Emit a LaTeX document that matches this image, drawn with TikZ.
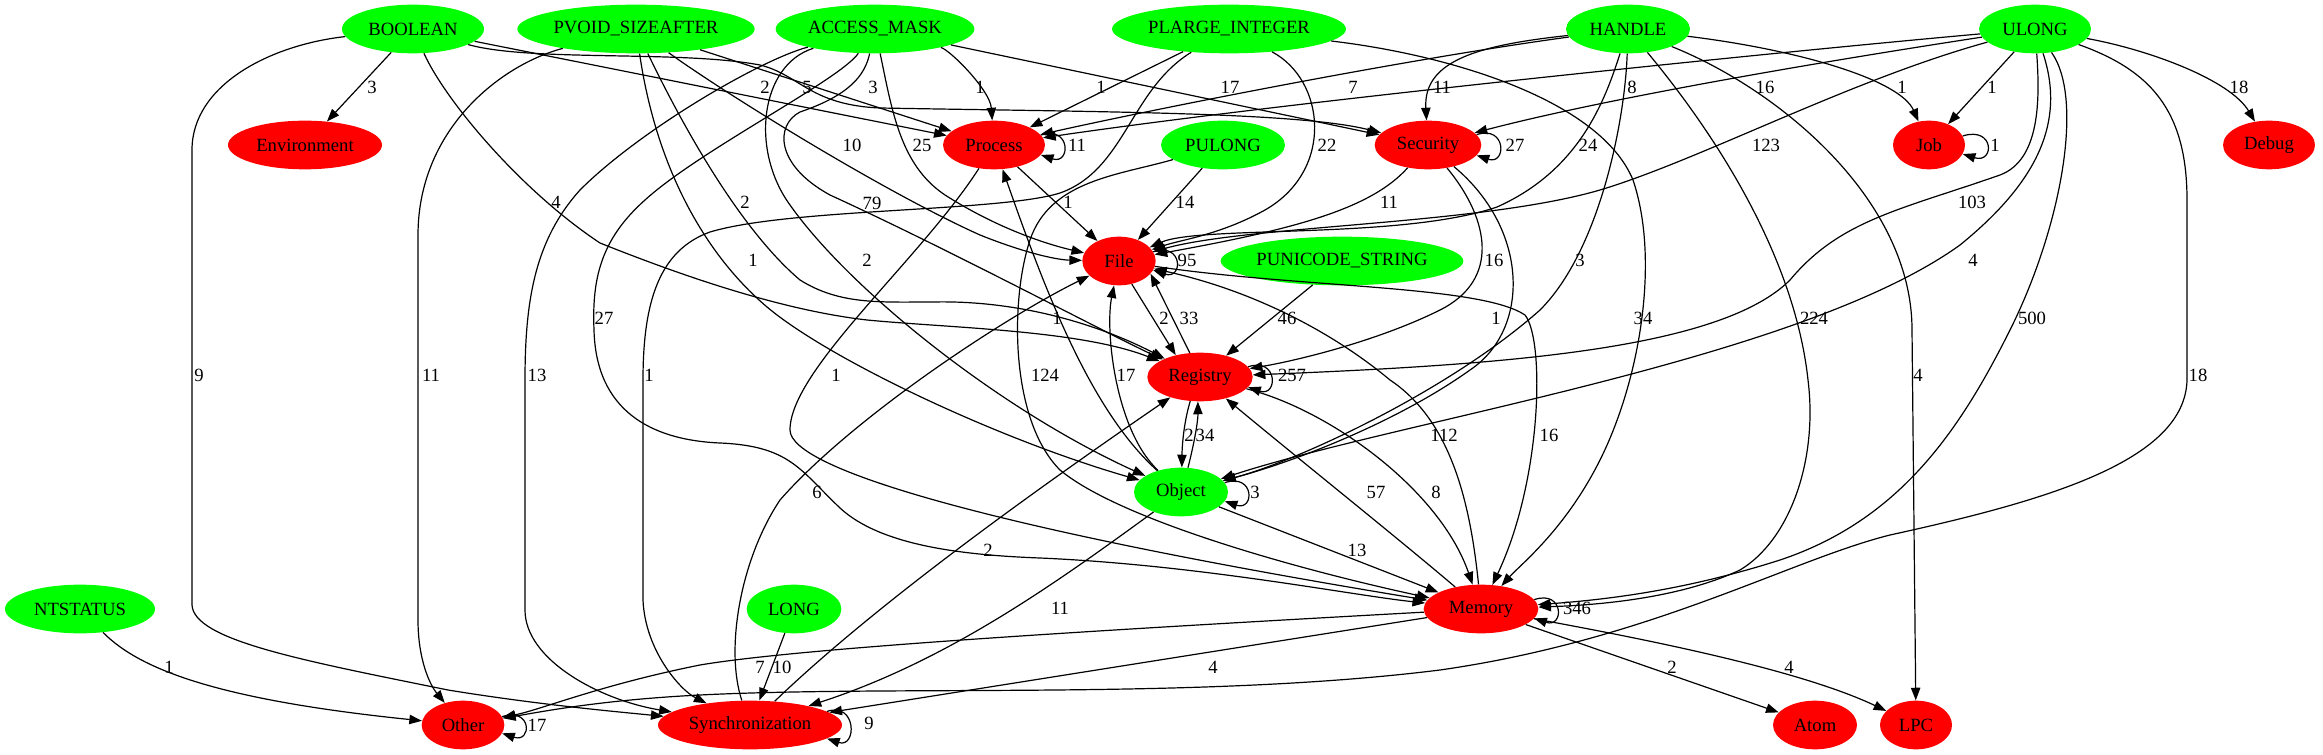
\documentclass[tikz,border=0pt]{standalone}
\usepackage{fontspec}
\setmainfont{Liberation Serif}
\usetikzlibrary{shapes.geometric,arrows.meta}
\definecolor{gvgreen}{RGB}{0,255,0}
\definecolor{gvred}{RGB}{255,0,0}
\begin{document}
\begin{tikzpicture}[x=0.75pt,y=-0.75pt,
  gn/.style={ellipse, fill=gvgreen, inner sep=0pt, minimum height=36.5pt, font=\fontsize{14}{16}\selectfont},
  rn/.style={ellipse, fill=gvred, inner sep=0pt, minimum height=36.5pt, font=\fontsize{14}{16}\selectfont},
  edg/.style={draw, line width=0.9pt, -{Triangle[length=9.5pt,width=7pt]}},
  lab/.style={inner sep=0pt, font=\fontsize{14}{16}\selectfont}]
\useasboundingbox[fill=white] (0,0) rectangle (2323,755);
% top row
\node[gn, minimum width=106.5pt] (BOOL) at (413,29) {BOOLEAN};
\node[gn, minimum width=178pt] (PVOID) at (636,29) {PVOID\_SIZEAFTER};
\node[gn, minimum width=149pt] (AM) at (875,29) {ACCESS\_MASK};
\node[gn, minimum width=175.5pt] (PLI) at (1229,29) {PLARGE\_INTEGER};
\node[gn, minimum width=93pt] (HANDLE) at (1628,29) {HANDLE};
\node[gn, minimum width=84pt] (ULONG) at (2035,29) {ULONG};
% second row
\node[rn, minimum width=115.5pt] (Env) at (305,145) {Environment};
\node[rn, minimum width=76.5pt] (Proc) at (994,145) {Process};
\node[gn, minimum width=93pt] (PULONG) at (1223,145) {PULONG};
\node[rn, minimum width=80pt] (Sec) at (1428,145) {Security};
\node[rn, minimum width=54pt] (Job) at (1929,145) {Job};
\node[rn, minimum width=69pt] (Debug) at (2269,145) {Debug};
% third row
\node[rn, minimum width=55pt] (File) at (1119,261) {File};
\node[gn, minimum width=182pt] (PUNI) at (1342,261) {PUNICODE\_STRING};
% fourth
\node[rn, minimum width=79pt] (Reg) at (1200,377) {Registry};
% fifth
\node[gn, minimum width=70.5pt] (Obj) at (1181,492) {Object};
% sixth
\node[gn, minimum width=112.5pt] (NTS) at (80,609) {NTSTATUS};
\node[gn, minimum width=71pt] (LONG) at (794,609) {LONG};
\node[rn, minimum width=86pt] (Mem) at (1481,609) {Memory};
% bottom
\node[rn, minimum width=62pt] (Other) at (463,725) {Other};
\node[rn, minimum width=138pt] (Sync) at (750,725) {Synchronization};
\node[rn, minimum width=63pt] (Atom) at (1815,725) {Atom};
\node[rn, minimum width=54pt] (LPC) at (1916,725) {LPC};

% BOOLEAN
\draw[edg] (BOOL) -- (Env) node[lab] (l1) at (372,87) {3};
\draw[edg] (BOOL) .. controls (270,45) and (192,85) .. (192,150) -- (192,605) .. controls (194,640) and (300,660) .. (448,690) .. controls (540,705) and (620,712) .. (Sync) node[lab] (l2) at (199,375) {9};
\draw[edg] (BOOL) .. controls (445,100) and (520,190) .. (600,243) .. controls (680,275) and (780,310) .. (867,320) .. controls (950,328) and (1080,330) .. (Reg) node[lab] (l3) at (556,202) {4};
\draw[edg] (BOOL) -- (Proc) node[lab] (l4) at (765,87) {2};
\draw[edg] (BOOL) .. controls (530,62) and (680,50) .. (760,65) .. controls (800,75) and (810,105) .. (880,108) .. controls (1100,112) and (1300,112) .. (Sec) node[lab] (l5) at (807,87) {5};
% PVOID_SIZEAFTER
\draw[edg] (PVOID) .. controls (500,65) and (418,130) .. (418,235) -- (418,620) .. controls (418,660) and (430,685) .. (Other) node[lab] (l6) at (431,375) {11};
\draw[edg] (PVOID) -- (Proc) node[lab] (l7) at (873,87) {3};
\draw[edg] (PVOID) .. controls (675,110) and (735,225) .. (800,280) .. controls (840,305) and (880,302) .. (933,302) .. controls (1020,300) and (1100,325) .. (Reg) node[lab] (l8) at (745,202) {2};
\draw[edg] (PVOID) .. controls (655,160) and (700,250) .. (767,307) .. controls (830,360) and (1000,440) .. (Obj) node[lab] (l9) at (753,260) {1};
\draw[edg] (PVOID) .. controls (720,90) and (880,190) .. (980,235) .. controls (1030,255) and (1060,260) .. (File) node[lab] (l10) at (852,145) {10};
% ACCESS_MASK
\draw[edg] (AM) .. controls (950,50) and (990,90) .. (Proc) node[lab] (l11) at (980,87) {1};
\draw[edg] (AM) -- (Sec) node[lab] (l12) at (1230,87) {17};
\draw[edg] (AM) .. controls (892,110) and (900,165) .. (945,195) .. controls (1000,230) and (1050,245) .. (File) node[lab] (l13) at (922,145) {25};
\draw[edg] (AM) .. controls (760,65) and (750,150) .. (790,205) .. controls (850,290) and (1000,410) .. (Obj) node[lab] (l14) at (867,260) {2};
\draw[edg] (AM) .. controls (840,80) and (700,150) .. (645,200) .. controls (600,240) and (592,280) .. (594,330) .. controls (596,410) and (650,440) .. (720,443) .. controls (790,446) and (800,470) .. (840,508) .. controls (880,545) and (960,555) .. (1040,558) .. controls (1200,565) and (1350,595) .. (Mem) node[lab] (l15) at (604,318) {27};
\draw[edg] (AM) .. controls (760,60) and (640,130) .. (580,190) .. controls (535,240) and (525,300) .. (525,380) -- (525,610) .. controls (525,660) and (600,700) .. (Sync) node[lab] (l16) at (537,375) {13};
\draw[edg] (AM) .. controls (865,75) and (850,95) .. (800,112) .. controls (775,125) and (775,165) .. (830,195) .. controls (950,250) and (1100,330) .. (Reg) node[lab] (l17) at (872,203) {79};
% PLARGE_INTEGER
\draw[edg] (PLI) -- (Proc) node[lab] (l18) at (1101,87) {1};
\draw[edg] (PLI) .. controls (1325,80) and (1335,170) .. (1265,210) .. controls (1220,235) and (1180,240) .. (File) node[lab] (l19) at (1327,145) {22};
\draw[edg] (PLI) .. controls (1130,90) and (1125,170) .. (1060,193) .. controls (1000,212) and (790,208) .. (710,232) .. controls (660,250) and (643,300) .. (643,380) -- (643,600) .. controls (645,650) and (680,690) .. (Sync) node[lab] (l20) at (649,375) {1};
\draw[edg] (PLI) .. controls (1450,55) and (1600,100) .. (1633,180) .. controls (1660,260) and (1640,380) .. (1600,460) .. controls (1565,530) and (1520,565) .. (Mem) node[lab] (l21) at (1643,318) {34};
% HANDLE
\draw[edg] (HANDLE) .. controls (1400,60) and (1150,110) .. (Proc) node[lab] (l22) at (1353,87) {7};
\draw[edg] (HANDLE) .. controls (1480,45) and (1423,60) .. (Sec) node[lab] (l23) at (1442,87) {11};
\draw[edg] (HANDLE) .. controls (1800,50) and (1900,80) .. (Job) node[lab] (l24) at (1902,87) {1};
\draw[edg] (HANDLE) .. controls (1605,100) and (1580,170) .. (1497,207) .. controls (1400,240) and (1200,225) .. (File) node[lab] (l25) at (1588,145) {24};
\draw[edg] (HANDLE) .. controls (1625,120) and (1600,250) .. (1540,310) .. controls (1450,390) and (1300,460) .. (Obj) node[lab] (l26) at (1580,260) {3};
\draw[edg] (HANDLE) .. controls (1720,140) and (1795,260) .. (1808,380) .. controls (1818,460) and (1790,540) .. (1740,570) .. controls (1680,598) and (1600,605) .. (Mem) node[lab] (l27) at (1814,318) {224};
\draw[edg] (HANDLE) .. controls (1780,90) and (1912,200) .. (1912,330) -- (LPC) node[lab] (l28) at (1918,375) {4};
% ULONG
\draw[edg] (ULONG) .. controls (1800,50) and (1300,100) .. (Proc) node[lab] (l29) at (1632,87) {8};
\draw[edg] (ULONG) .. controls (1800,65) and (1600,100) .. (Sec) node[lab] (l30) at (1765,87) {16};
\draw[edg] (ULONG) .. controls (1850,80) and (1700,160) .. (1600,190) .. controls (1480,225) and (1250,225) .. (File) node[lab] (l31) at (1766,145) {123};
\draw[edg] (ULONG) -- (Job) node[lab] (l32) at (1992,87) {1};
\draw[edg] (ULONG) .. controls (2150,50) and (2230,80) .. (Debug) node[lab] (l33) at (2239,87) {18};
\draw[edg] (ULONG) .. controls (2040,100) and (2040,160) .. (2000,175) .. controls (1900,210) and (1840,220) .. (1790,280) .. controls (1720,350) and (1500,365) .. (Reg) node[lab] (l34) at (1972,202) {103};
\draw[edg] (ULONG) .. controls (2065,120) and (2040,180) .. (1960,245) .. controls (1800,360) and (1400,420) .. (Obj) node[lab] (l35) at (1973,260) {4};
\draw[edg] (ULONG) .. controls (2085,100) and (2060,230) .. (2010,330) .. controls (1960,430) and (1900,520) .. (1780,560) .. controls (1680,592) and (1600,600) .. (Mem) node[lab] (l36) at (2032,318) {500};
\draw[edg] (ULONG) .. controls (2150,70) and (2187,110) .. (2187,200) -- (2187,380) .. controls (2185,460) and (2050,500) .. (1890,535) .. controls (1790,560) and (1650,640) .. (1440,670) .. controls (1200,700) and (900,685) .. (700,695) .. controls (600,700) and (540,712) .. (Other) node[lab] (l37) at (2198,375) {18};
% PULONG, PUNICODE_STRING, NTSTATUS, LONG
\draw[edg] (PULONG) -- (File) node[lab] (l38) at (1185,202) {14};
\draw[edg] (PULONG) .. controls (1120,175) and (1050,180) .. (1030,240) .. controls (1010,300) and (1010,420) .. (1060,470) .. controls (1120,520) and (1300,570) .. (Mem) node[lab] (l39) at (1045,375) {124};
\draw[edg] (PUNI) -- (Reg) node[lab] (l40) at (1287,318) {46};
\draw[edg] (NTS) .. controls (140,670) and (220,700) .. (Other) node[lab] (l41) at (169,667) {1};
\draw[edg] (LONG) -- (Sync) node[lab] (l42) at (782,667) {10};
% red to red
\draw[edg] (Proc) -- (File) node[lab] (l43) at (1068,202) {1};
\draw[edg] (Proc) .. controls (920,260) and (790,370) .. (790,430) .. controls (790,470) and (1000,530) .. (Mem) node[lab] (l44) at (836,375) {1};
\draw[edg] (Sec) .. controls (1370,210) and (1290,230) .. (File) node[lab] (l45) at (1389,202) {11};
\draw[edg] (Sec) .. controls (1490,220) and (1500,280) .. (1440,310) .. controls (1380,340) and (1300,360) .. (Reg) node[lab] (l46) at (1494,260) {16};
\draw[edg] (Sec) .. controls (1530,230) and (1530,330) .. (1470,370) .. controls (1400,420) and (1300,460) .. (Obj) node[lab] (l47) at (1496,318) {1};
\draw[edg] (File.-61) -- (Reg.138) node[lab] (l48) at (1164,318) {2};
\draw[edg] (Reg.113) -- (File.-22) node[lab] (l49) at (1189,318) {33};
\draw[edg] (File) .. controls (1300,288) and (1480,285) .. (1525,315) .. controls (1545,340) and (1542,480) .. (Mem) node[lab] (l50) at (1549,435) {16};
\draw[edg] (Mem) .. controls (1470,500) and (1450,420) .. (1390,380) .. controls (1330,330) and (1250,290) .. (File) node[lab] (l51) at (1444,435) {112};
\draw[edg] (Reg.-112) .. controls (1183,425) and (1182,450) .. (Obj.88) node[lab] (l52) at (1189,435) {2};
\draw[edg] (Obj.74) .. controls (1195,440) and (1198,420) .. (Reg.-95) node[lab] (l53) at (1205,435) {34};
\draw[edg] (Obj) .. controls (1115,430) and (1105,330) .. (File) node[lab] (l54) at (1126,375) {17};
\draw[edg] (Obj) .. controls (1090,410) and (1045,290) .. (Proc) node[lab] (l55) at (1057,318) {1};
\draw[edg] (Reg) .. controls (1330,410) and (1440,490) .. (Mem) node[lab] (l56) at (1436,492) {8};
\draw[edg] (Mem) .. controls (1400,540) and (1300,460) .. (Reg) node[lab] (l57) at (1376,492) {57};
\draw[edg] (Obj) -- (Mem) node[lab] (l58) at (1357,550) {13};
\draw[edg] (Obj) .. controls (1060,580) and (950,660) .. (Sync) node[lab] (l59) at (1060,608) {11};
\draw[edg] (Sync) .. controls (725,650) and (740,560) .. (780,500) .. controls (850,420) and (1000,320) .. (File) node[lab] (l60) at (817,492) {6};
\draw[edg] (Sync) .. controls (880,600) and (1050,480) .. (Reg) node[lab] (l61) at (988,550) {2};
\draw[edg] (Mem) -- (Sync) node[lab] (l62) at (1213,667) {4};
\draw[edg] (Mem) .. controls (1100,630) and (800,648) .. (700,665) .. controls (600,685) and (540,710) .. (Other) node[lab] (l63) at (760,667) {7};
\draw[edg] (Mem) -- (Atom) node[lab] (l64) at (1672,667) {2};
\draw[edg] (Mem) .. controls (1650,640) and (1800,670) .. (LPC) node[lab] (l65) at (1789,667) {4};
% self loops
\draw[edg] (Proc.12) .. controls +(30,-10) and +(30,10) .. (Proc.-12) node[lab] (s1) at (1077,145) {11};
\draw[edg] (Sec.12) .. controls +(30,-10) and +(30,10) .. (Sec.-12) node[lab] (s2) at (1515,145) {27};
\draw[edg] (Job.15) .. controls +(32,-10) and +(32,10) .. (Job.-15) node[lab] (s3) at (1995,145) {1};
\draw[edg] (File.15) .. controls +(30,-10) and +(30,10) .. (File.-15) node[lab] (s4) at (1187,260) {95};
\draw[edg] (Reg.12) .. controls +(30,-10) and +(30,10) .. (Reg.-12) node[lab] (s5) at (1292,375) {257};
\draw[edg] (Obj.12) .. controls +(30,-10) and +(30,10) .. (Obj.-12) node[lab] (s6) at (1255,492) {3};
\draw[edg] (Mem.10) .. controls +(30,-10) and +(30,10) .. (Mem.-10) node[lab] (s7) at (1577,608) {346};
\draw[edg] (Other.12) .. controls +(30,-10) and +(30,10) .. (Other.-12) node[lab] (s8) at (537,725) {17};
\draw[edg] (Sync.10) .. controls +(30,-10) and +(30,10) .. (Sync.-10) node[lab] (s9) at (869,723) {9};
\end{tikzpicture}
\end{document}
